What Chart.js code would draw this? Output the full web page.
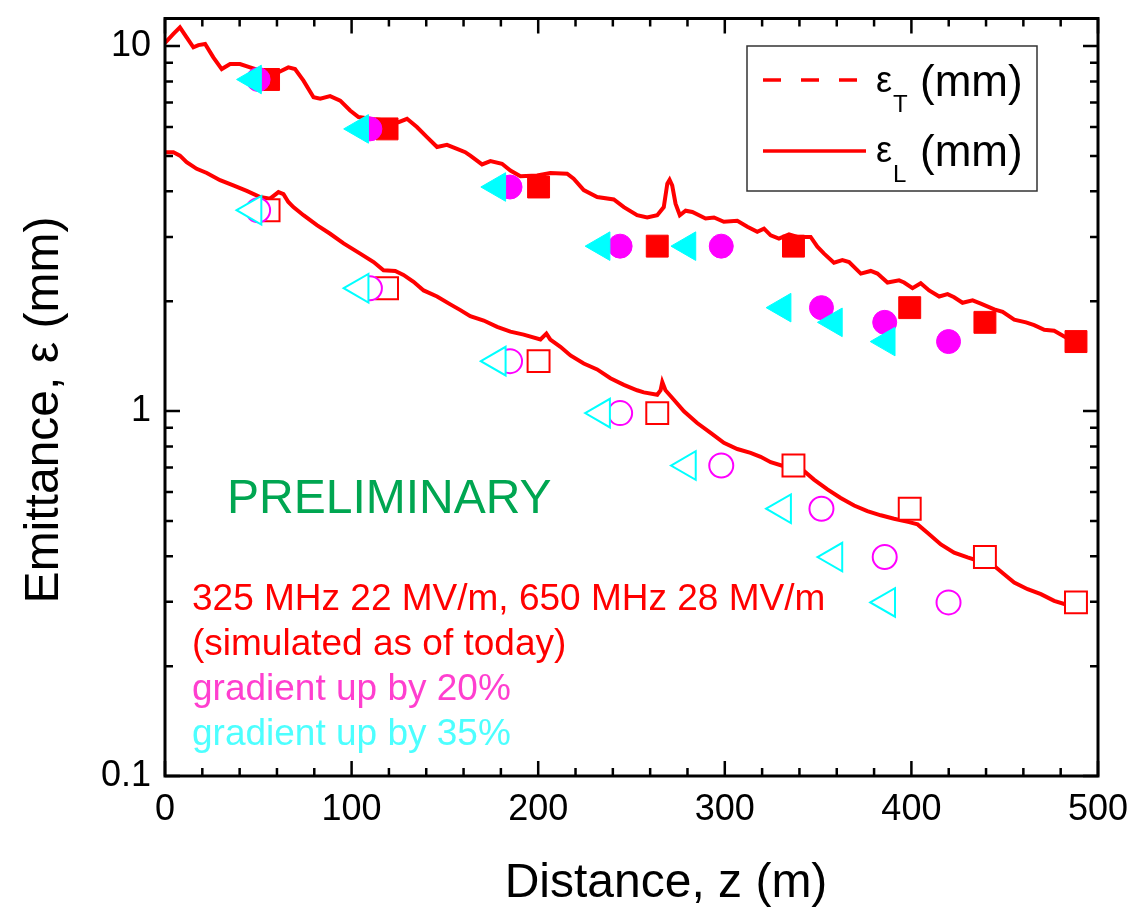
<!DOCTYPE html>
<html>
<head>
<meta charset="utf-8">
<script src="https://cdn.jsdelivr.net/npm/chart.js@4"></script>
<style>
  body { margin: 0; background: #fff; }
  canvas { display: block; }
</style>
</head>
<body>
<canvas id="emit-chart" width="1134" height="911"></canvas>
<script>
// simulated curves, z in m, emittance in mm
const curveTz = [0, 4.5, 8, 11.6, 15.2, 17.9, 21.5, 25.9, 30.4, 34.9, 40.2, 45.6, 51, 60.8, 66.1, 69.7, 74.2, 79.6, 83.2, 88.5, 93.9, 99.2, 103.7, 110, 125.2, 129.7, 135, 140.4, 145.8, 151.1, 156.5, 160.9, 163.6, 169.9, 174.4, 180.6, 185.1, 190.5, 199.4, 206.5, 215.5, 219, 224.4, 231.6, 240.5, 245.9, 253, 258.4, 263.8, 267.3, 269.2, 270.4, 271.8, 273.6, 275.9, 279, 282.6, 289.7, 294.2, 299.5, 306.7, 312.1, 317.4, 321, 324.6, 329, 334.4, 338.9, 346, 349.6, 353.2, 358.5, 363, 366.6, 372.9, 378.2, 381.8, 387.2, 393.4, 396.1, 400.6, 405, 409.5, 414.9, 419.4, 422.9, 427.4, 432.8, 437.2, 444.4, 448.9, 455.1, 461.4, 465.8, 471.2, 476.5, 481.9, 487.3];
const curveT = [10.2, 10.8, 11.25, 10.56, 9.92, 10.06, 10.13, 9.31, 8.65, 8.93, 8.93, 8.74, 8.56, 8.48, 8.74, 8.65, 8.04, 7.24, 7.17, 7.29, 7.09, 6.66, 6.39, 6.32, 6.19, 6.32, 6.0, 5.63, 5.29, 5.36, 5.23, 5.12, 5.01, 4.74, 4.84, 4.76, 4.56, 4.40, 4.42, 4.49, 4.47, 4.33, 4.03, 3.86, 3.80, 3.62, 3.44, 3.39, 3.44, 3.62, 4.20, 4.30, 4.15, 3.70, 3.44, 3.54, 3.51, 3.37, 3.39, 3.30, 3.32, 3.20, 3.10, 3.16, 3.03, 2.97, 3.05, 3.00, 3.00, 2.82, 2.70, 2.55, 2.59, 2.56, 2.38, 2.42, 2.38, 2.25, 2.28, 2.25, 2.17, 2.24, 2.14, 2.06, 2.09, 2.05, 1.98, 2.01, 1.97, 1.90, 1.87, 1.78, 1.75, 1.72, 1.67, 1.66, 1.60, 1.55];
const curveLz = [0, 4.5, 8, 11.6, 17, 22.4, 29.5, 36.6, 43.8, 51, 56.3, 60.8, 63.5, 66.1, 68.8, 74.2, 81.4, 88.5, 95.7, 104.6, 111.8, 117.1, 123.4, 127.8, 133.2, 138.6, 145.8, 152.9, 158.3, 163.6, 170.8, 178, 185.1, 192.2, 201.2, 204.4, 206.5, 211.9, 217.3, 224.4, 231.6, 238.7, 245.9, 253, 256.6, 263.8, 265.6, 266.5, 268.2, 272.7, 278.1, 285.2, 292.4, 299.5, 306.7, 313.8, 319.2, 324.6, 331.7, 341.6, 347.8, 355, 362.1, 369.3, 376.4, 383.6, 390.7, 398.8, 403.3, 408.6, 415.8, 422.9, 430.1, 439, 444.4, 449.7, 455.1, 462.3, 469.4, 476.5, 481.9, 487.3];
const curveL = [5.12, 5.12, 5.01, 4.81, 4.61, 4.49, 4.29, 4.15, 4.01, 3.86, 3.82, 3.98, 3.93, 3.74, 3.62, 3.44, 3.23, 3.06, 2.88, 2.70, 2.56, 2.43, 2.42, 2.36, 2.26, 2.14, 2.06, 1.96, 1.89, 1.82, 1.77, 1.70, 1.65, 1.62, 1.57, 1.63, 1.57, 1.50, 1.42, 1.35, 1.30, 1.23, 1.18, 1.14, 1.125, 1.108, 1.14, 1.20, 1.14, 1.074, 0.998, 0.927, 0.871, 0.818, 0.787, 0.768, 0.749, 0.724, 0.706, 0.691, 0.649, 0.610, 0.578, 0.551, 0.532, 0.518, 0.507, 0.496, 0.489, 0.464, 0.431, 0.409, 0.397, 0.384, 0.376, 0.357, 0.339, 0.325, 0.315, 0.302, 0.296, 0.294];

// marker positions per gradient case
const zToday = [55.5, 119.0, 200.2, 263.8, 336.8, 399.1, 439.4, 488.2];
const zUp20 = [49.9, 109.8, 184.9, 243.9, 298.1, 351.8, 385.7, 419.9];
const zUp35 = [47.2, 104.6, 178.1, 234.0, 280.0, 331.0, 358.5, 386.8];
const markT = [8.1, 5.93, 4.11, 2.83, 2.83, 1.92, 1.75, 1.55];
const markL = [3.55, 2.17, 1.37, 0.987, 0.709, 0.540, 0.398, 0.299];

const yTickValues = [0.1, 1, 10];
const xRange = [0, 500];
const yRange = [0.1, 11.9];

const FONT = 'Arial, "Liberation Sans", sans-serif';
const RED = '#ff0000', MAG = '#ff00ff', CYAN = '#00ffff';

const pts = (xs, ys) => xs.map((x, i) => ({ x, y: ys[i] }));

function markerSet(xs, ys, color, style, radius, filled) {
  return {
    data: pts(xs, ys),
    pointStyle: style,
    rotation: style === 'triangle' ? -90 : 0,
    pointRadius: radius,
    pointBackgroundColor: filled ? color : '#ffffff',
    pointBorderColor: color,
    pointBorderWidth: filled ? 1 : 2,
    showLine: false
  };
}

// no auto padding from tick labels, the frame is fixed
function noPad(s) {
  s.paddingTop = 0; s.paddingBottom = 0;
  s.paddingLeft = 0; s.paddingRight = 0;
}

const frameAndTicks = {
  id: 'frameAndTicks',
  afterDatasetsDraw(chart) {
    const { ctx, chartArea: a, scales: { x, y } } = chart;
    ctx.save();
    ctx.strokeStyle = '#000';
    ctx.lineWidth = 2.5;
    ctx.beginPath();
    for (let v = xRange[0]; v <= xRange[1]; v += 20) {
      const px = x.getPixelForValue(v);
      const len = v % 100 === 0 ? 15 : 8;
      ctx.moveTo(px, a.bottom); ctx.lineTo(px, a.bottom - len);
      ctx.moveTo(px, a.top); ctx.lineTo(px, a.top + len);
    }
    for (const dec of yTickValues) {
      for (let k = 1; k <= 9; k++) {
        const v = dec * k;
        if (v > y.max) break;
        const py = y.getPixelForValue(v);
        const len = k === 1 ? 15 : 8;
        ctx.moveTo(a.left, py); ctx.lineTo(a.left + len, py);
        ctx.moveTo(a.right, py); ctx.lineTo(a.right - len, py);
      }
    }
    ctx.stroke();
    ctx.lineWidth = 3;
    ctx.strokeRect(a.left, a.top, a.right - a.left, a.bottom - a.top);
    ctx.restore();
  },
  afterDraw(chart) {
    const { ctx } = chart;
    ctx.save();
    // axis titles
    ctx.fillStyle = '#000';
    ctx.font = `48px ${FONT}`;
    ctx.textAlign = 'center';
    ctx.textBaseline = 'middle';
    ctx.fillText('Distance, z (m)', 666, 884);
    ctx.translate(45, 410);
    ctx.rotate(-Math.PI / 2);
    ctx.fillText('Emittance, ε (mm)', 0, 0);
    ctx.setTransform(1, 0, 0, 1, 0, 0);

    // notes
    ctx.textAlign = 'left';
    ctx.fillStyle = '#00a651';
    ctx.font = `48px ${FONT}`;
    ctx.fillText('PRELIMINARY', 227, 500);
    ctx.font = `37px ${FONT}`;
    ctx.fillStyle = RED;
    ctx.fillText('325 MHz 22 MV/m, 650 MHz 28 MV/m', 192, 600);
    ctx.fillText('(simulated as of today)', 192, 645);
    ctx.fillStyle = '#ff3fcf';
    ctx.fillText('gradient up by 20%', 192, 690);
    ctx.fillStyle = '#4dffff';
    ctx.fillText('gradient up by 35%', 192, 735);

    // legend box
    ctx.strokeStyle = '#333';
    ctx.lineWidth = 1.5;
    ctx.strokeRect(747, 46, 290, 145);
    ctx.strokeStyle = RED;
    ctx.lineWidth = 3.5;
    ctx.setLineDash([18, 20]);
    ctx.beginPath(); ctx.moveTo(763, 80); ctx.lineTo(860, 80); ctx.stroke();
    ctx.setLineDash([]);
    ctx.beginPath(); ctx.moveTo(763, 151); ctx.lineTo(866, 151); ctx.stroke();
    ctx.fillStyle = '#000';
    ctx.textBaseline = 'alphabetic';
    [['T', 92], ['L', 162]].forEach(([sub, base]) => {
      ctx.font = `36px ${FONT}`;
      ctx.fillText('ε', 876, base);
      ctx.font = `24px ${FONT}`;
      ctx.fillText(sub, 893, base + 20);
      ctx.font = `44px ${FONT}`;
      ctx.fillText('(mm)', 920, base + 4);
    });
    ctx.restore();
  }
};

new Chart(document.getElementById('emit-chart'), {
  type: 'scatter',
  data: {
    datasets: [
      markerSet(zUp35, markT, CYAN, 'triangle', 16.5, true),
      markerSet(zUp35, markL, CYAN, 'triangle', 16.5, false),
      markerSet(zUp20, markT, MAG, 'circle', 12, true),
      markerSet(zUp20, markL, MAG, 'circle', 12, false),
      markerSet(zToday, markT, RED, 'rect', 15.5, true),
      markerSet(zToday, markL, RED, 'rect', 15.5, false),
      { label: 'εT (mm)', data: pts(curveTz, curveT), showLine: true, borderColor: RED, borderWidth: 4, pointRadius: 0, tension: 0 },
      { label: 'εL (mm)', data: pts(curveLz, curveL), showLine: true, borderColor: RED, borderWidth: 4, pointRadius: 0, tension: 0 }
    ]
  },
  options: {
    responsive: false,
    animation: false,
    layout: { padding: { top: 12, right: 36, left: 0, bottom: 0 } },
    plugins: { legend: { display: false }, tooltip: { enabled: false } },
    scales: {
      x: {
        type: 'linear', min: xRange[0], max: xRange[1],
        grid: { display: false, drawTicks: false },
        border: { display: false },
        ticks: { stepSize: 100, padding: 12, maxRotation: 0, color: '#000', font: { size: 36, family: FONT } },
        afterFit: s => { s.height = 135; noPad(s); }
      },
      y: {
        type: 'logarithmic', min: yRange[0], max: yRange[1],
        grid: { display: false, drawTicks: false },
        border: { display: false },
        afterBuildTicks: s => { s.ticks = yTickValues.map(v => ({ value: v })); },
        ticks: { padding: 14, color: '#000', font: { size: 36, family: FONT }, callback: v => String(v) },
        afterFit: s => { s.width = 165; noPad(s); }
      }
    }
  },
  plugins: [frameAndTicks]
});
</script>
</body>
</html>
